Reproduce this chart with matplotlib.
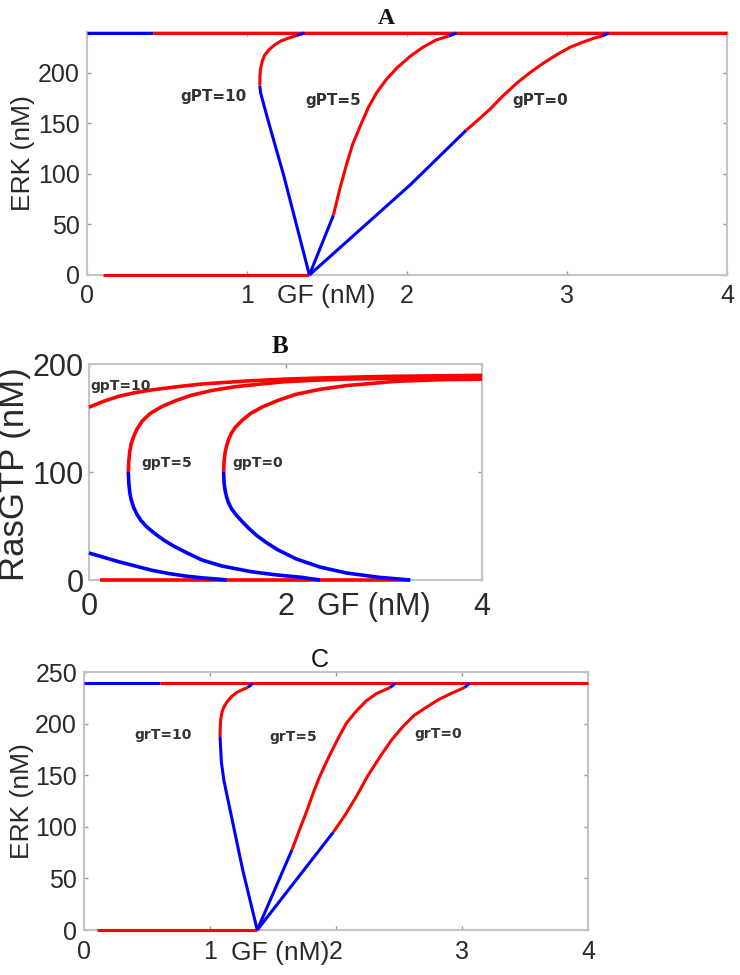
import matplotlib
matplotlib.use("Agg")
import matplotlib.pyplot as plt

# ---------------- Panel A (ERK vs GF, gPT) ----------------
A_top_blue_gf = [0.0, 0.41]
A_top_red_gf = [0.41, 4.0]
A_top_erk = 239
A_low_red_gf = [0.10, 1.39]
A_low_erk = 0

A_g10_blue_gf = [1.39, 1.31, 1.23, 1.14, 1.10, 1.085, 1.08]
A_g10_blue_erk = [0, 49, 98, 148, 171, 180, 187]
A_g10_red_gf = [1.08, 1.081, 1.085, 1.095, 1.11, 1.135, 1.17, 1.21, 1.26, 1.31]
A_g10_red_erk = [187, 196, 204, 211, 217, 222, 227, 231, 234, 236.5]
A_g10_tip_gf = [1.31, 1.36]
A_g10_tip_erk = [236.5, 239]

A_g5_blue_gf = [1.39, 1.54]
A_g5_blue_erk = [0, 59]
A_g5_red_gf = [1.54, 1.58, 1.62, 1.66, 1.71, 1.76, 1.81, 1.87, 1.94, 2.02, 2.10, 2.18, 2.26]
A_g5_red_erk = [59, 85, 108, 129, 148, 166, 180, 193, 205, 216, 225, 232, 236]
A_g5_tip_gf = [2.26, 2.31]
A_g5_tip_erk = [236, 239]

A_g0_blue_gf = [1.39, 2.02, 2.37]
A_g0_blue_erk = [0, 89, 143]
A_g0_red_gf = [2.37, 2.45, 2.52, 2.60, 2.69, 2.77, 2.85, 2.94, 3.02, 3.10, 3.17, 3.22]
A_g0_red_erk = [143, 154, 164, 177, 190, 200, 209, 218, 225, 230, 234, 236]
A_g0_tip_gf = [3.22, 3.26]
A_g0_tip_erk = [236, 239]

A_labels = ["gPT=10", "gPT=5", "gPT=0"]
A_label_gf = [0.79, 1.54, 2.83]
A_label_erk = [176, 172, 172]

# ---------------- Panel B (RasGTP vs GF, gpT) ----------------
B_base_gf = [0.11, 3.27]
B_base_ras = 0

B_g10_red_gf = [0.0, 0.15, 0.30, 0.47, 0.64, 0.90, 1.15, 1.40, 1.65, 2.0, 2.33, 3.0, 4.0]
B_g10_red_ras = [160, 165.5, 170, 173.5, 176, 179, 181.5, 183, 184.5, 186, 187, 188.5, 189.5]
B_g10_blue_gf = [0.0, 0.15, 0.30, 0.47, 0.64, 0.81, 0.98, 1.15, 1.32, 1.40]
B_g10_blue_ras = [25, 21, 17, 13, 9, 6, 3.7, 2, 0.8, 0]

B_g5_red_gf = [0.40, 0.405, 0.415, 0.43, 0.455, 0.49, 0.54, 0.62, 0.74, 0.88, 1.04, 1.25,
               1.49, 1.75, 1.99, 2.30, 2.60, 3.3, 4.0]
B_g5_red_ras = [100, 110, 119, 126.5, 133, 140, 147, 154, 160.5, 166, 171, 175.5,
                179, 181.5, 183.6, 185, 186, 187, 187.5]
B_g5_blue_gf = [0.40, 0.405, 0.415, 0.43, 0.455, 0.49, 0.53, 0.59, 0.67, 0.76, 0.86, 1.00,
                1.15, 1.35, 1.65, 1.90, 2.16, 2.35]
B_g5_blue_ras = [100, 90, 81, 74, 67, 60.5, 55, 49, 43, 37, 31.5, 25,
                 18.5, 13, 7.7, 4.8, 2.5, 0]

B_g0_red_gf = [1.37, 1.375, 1.385, 1.40, 1.42, 1.45, 1.49, 1.56, 1.65, 1.77, 1.93, 2.11,
               2.35, 2.62, 3.13, 3.6, 4.0]
B_g0_red_ras = [100, 110, 118, 124, 130, 136, 141.5, 148, 154.5, 160.5, 166.5, 172,
                176.5, 180, 184, 185.5, 186]
B_g0_blue_gf = [1.37, 1.375, 1.385, 1.40, 1.42, 1.45, 1.50, 1.56, 1.63, 1.71, 1.80, 1.92,
                2.11, 2.35, 2.62, 2.95, 3.27]
B_g0_blue_ras = [100, 90, 83, 77, 71.5, 66, 60, 54, 47.5, 41, 35, 28,
                 19.5, 12, 6.5, 2.5, 0]

B_labels = ["gpT=10", "gpT=5", "gpT=0"]
B_label_gf = [0.32, 0.79, 1.72]
B_label_ras = [180, 108, 108]

# ---------------- Panel C (ERK vs GF, grT) ----------------
C_top_blue_gf = [0.0, 0.60]
C_top_red_gf = [0.60, 4.0]
C_top_erk = 239
C_low_red_gf = [0.10, 1.375]
C_low_erk = 0

C_g10_blue_gf = [1.375, 1.26, 1.16, 1.11, 1.09, 1.08]
C_g10_blue_erk = [0, 58, 116, 145, 163, 187]
C_g10_red_gf = [1.08, 1.081, 1.085, 1.095, 1.11, 1.135, 1.17, 1.21, 1.26, 1.30]
C_g10_red_erk = [187, 196, 204, 211, 216, 221, 226, 230, 233, 235]
C_g10_tip_gf = [1.30, 1.34]
C_g10_tip_erk = [235, 239]

C_g5_blue_gf = [1.375, 1.65]
C_g5_blue_erk = [0, 77.5]
C_g5_red_gf = [1.65, 1.71, 1.77, 1.82, 1.87, 1.94, 2.01, 2.08, 2.16, 2.24, 2.32, 2.43]
C_g5_red_erk = [77.5, 97, 116, 133, 148.5, 167, 184, 200, 212, 222, 229, 235]
C_g5_tip_gf = [2.43, 2.47]
C_g5_tip_erk = [235, 239]

C_g0_blue_gf = [1.375, 1.98]
C_g0_blue_erk = [0, 95]
C_g0_red_gf = [1.98, 2.07, 2.16, 2.25, 2.35, 2.44, 2.53, 2.62, 2.72, 2.81, 2.91, 3.02]
C_g0_red_erk = [95, 111, 129, 149, 168, 184, 197, 208, 216, 223, 229, 235]
C_g0_tip_gf = [3.02, 3.06]
C_g0_tip_erk = [235, 239]

C_labels = ["grT=10", "grT=5", "grT=0"]
C_label_gf = [0.63, 1.66, 2.81]
C_label_erk = [189, 187, 190]

RED = "#ff0000"
BLUE = "#0000ff"
SPINE = "#c4c4c4"
TXT = "#2a2a2a"
LW = 2.2

plt.rcParams['font.family'] = ['Liberation Sans', 'DejaVu Sans']

fig = plt.figure(figsize=(7.4, 9.75), dpi=100)

def style(ax, fs, xpad, ypad):
    for s in ax.spines.values():
        s.set_color(SPINE)
        s.set_linewidth(1.5)
    ax.tick_params(direction='in', top=True, right=True, length=3, width=1,
                   color='#999999', labelsize=fs, labelcolor=TXT)
    ax.tick_params(axis='x', pad=xpad)
    ax.tick_params(axis='y', pad=ypad)

def seg(ax, x, y, c, lw=LW):
    if not hasattr(y, '__len__'):
        y = [y] * len(x)
    ax.plot(x, y, color=c, lw=lw, clip_on=False, solid_capstyle='butt',
            solid_joinstyle='round', zorder=3)

# ---- A ----
axA = fig.add_axes([87/740, 1-275/975, 640/740, 243/975])
seg(axA, A_top_blue_gf, A_top_erk, BLUE)
seg(axA, A_top_red_gf, A_top_erk, RED)
seg(axA, A_low_red_gf, A_low_erk, RED)
for bx, by, rx, ry, tx, ty in [
        (A_g10_blue_gf, A_g10_blue_erk, A_g10_red_gf, A_g10_red_erk, A_g10_tip_gf, A_g10_tip_erk),
        (A_g5_blue_gf, A_g5_blue_erk, A_g5_red_gf, A_g5_red_erk, A_g5_tip_gf, A_g5_tip_erk),
        (A_g0_blue_gf, A_g0_blue_erk, A_g0_red_gf, A_g0_red_erk, A_g0_tip_gf, A_g0_tip_erk)]:
    seg(axA, bx, by, BLUE)
    seg(axA, rx, ry, RED)
    seg(axA, tx, ty, BLUE)
for t, x, y in zip(A_labels, A_label_gf, A_label_erk):
    axA.text(x, y, t, fontsize=11, color='#333333', ha='center', va='center',
             family='DejaVu Sans', fontweight='bold')
axA.set_xlim(0, 4)
axA.set_ylim(0, 240)
axA.set_xticks([0, 1, 2, 3, 4])
axA.set_yticks([0, 50, 100, 150, 200])
style(axA, 18, 6.5, 5)
axA.set_xlabel("GF (nM)", fontsize=19, color=TXT)
axA.xaxis.set_label_coords(0.373, -0.037)
axA.set_ylabel("ERK (nM)", fontsize=19, color=TXT)
axA.yaxis.set_label_coords(-0.081, 0.5)
fig.text(386/740, 1-18/975, "A", fontsize=17, family='Liberation Serif',
         fontweight='bold', ha='center', va='center', color='#111111')

# ---- B ----
axB = fig.add_axes([89/740, 1-580/975, 393/740, 216/975])
seg(axB, B_base_gf, B_base_ras, RED, 2.6)
seg(axB, B_g10_red_gf, B_g10_red_ras, RED, 2.6)
seg(axB, B_g10_blue_gf, B_g10_blue_ras, BLUE, 2.6)
seg(axB, B_g5_red_gf, B_g5_red_ras, RED, 2.6)
seg(axB, B_g5_blue_gf, B_g5_blue_ras, BLUE, 2.6)
seg(axB, B_g0_red_gf, B_g0_red_ras, RED, 2.6)
seg(axB, B_g0_blue_gf, B_g0_blue_ras, BLUE, 2.6)
for t, x, y in zip(B_labels, B_label_gf, B_label_ras):
    axB.text(x, y, t, fontsize=10, color='#333333', ha='center', va='center',
             family='DejaVu Sans', fontweight='bold')
axB.set_xlim(0, 4)
axB.set_ylim(0, 200)
axB.set_xticks([0, 2, 4])
axB.set_yticks([0, 100, 200])
style(axB, 22, 8.5, 4)
axB.set_xlabel("GF (nM)", fontsize=22, color=TXT)
axB.xaxis.set_label_coords(0.725, -0.056)
axB.set_ylabel("RasGTP (nM)", fontsize=25, color=TXT)
axB.yaxis.set_label_coords(-0.147, 0.49)
fig.text(280/740, 1-347/975, "B", fontsize=18, family='Liberation Serif',
         fontweight='bold', ha='center', va='center', color='#111111')

# ---- C ----
axC = fig.add_axes([84/740, 1-930/975, 504/740, 258/975])
seg(axC, C_top_blue_gf, C_top_erk, BLUE)
seg(axC, C_top_red_gf, C_top_erk, RED)
seg(axC, C_low_red_gf, C_low_erk, RED)
for bx, by, rx, ry, tx, ty in [
        (C_g10_blue_gf, C_g10_blue_erk, C_g10_red_gf, C_g10_red_erk, C_g10_tip_gf, C_g10_tip_erk),
        (C_g5_blue_gf, C_g5_blue_erk, C_g5_red_gf, C_g5_red_erk, C_g5_tip_gf, C_g5_tip_erk),
        (C_g0_blue_gf, C_g0_blue_erk, C_g0_red_gf, C_g0_red_erk, C_g0_tip_gf, C_g0_tip_erk)]:
    seg(axC, bx, by, BLUE)
    seg(axC, rx, ry, RED)
    seg(axC, tx, ty, BLUE)
for t, x, y in zip(C_labels, C_label_gf, C_label_erk):
    axC.text(x, y, t, fontsize=10, color='#333333', ha='center', va='center',
             family='DejaVu Sans', fontweight='bold')
axC.set_xlim(0, 4)
axC.set_ylim(0, 250)
axC.set_xticks([0, 1, 2, 3, 4])
axC.set_yticks([0, 50, 100, 150, 200, 250])
style(axC, 18, 7.5, 5)
axC.set_xlabel("GF (nM)", fontsize=19, color=TXT)
axC.xaxis.set_label_coords(0.39, -0.041)
axC.set_ylabel("ERK (nM)", fontsize=19, color=TXT)
axC.yaxis.set_label_coords(-0.099, 0.5)
fig.text(320/740, 1-660/975, "C", fontsize=18, family='Liberation Sans',
         ha='center', va='center', color='#111111')

fig.savefig("out.png", dpi=100, facecolor='white')
